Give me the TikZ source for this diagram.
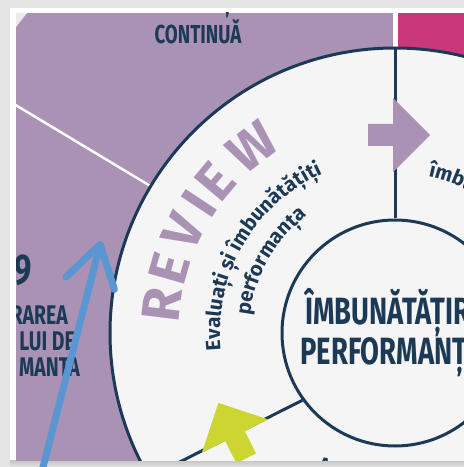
\documentclass[tikz,border=0pt]{standalone}
\usepackage{fontspec}
\setmainfont{Fira Sans}
\newfontfamily\condfont{Fira Sans}[FakeStretch=0.72]
\usetikzlibrary{arrows.meta,decorations.text}

\definecolor{navy}{HTML}{1C3A56}
\definecolor{lilac}{HTML}{AA92B5}
\definecolor{berry}{HTML}{C8387B}
\definecolor{lime}{HTML}{CDD533}
\definecolor{pen}{HTML}{5A96D2}
\definecolor{paper}{HTML}{F5F5F5}
\definecolor{edge}{HTML}{E4E4E4}

\newcommand\arcfont{\color{navy}\bfseries\fontsize{20.5}{20.5}\selectfont}
\newcommand\revfont{\fontsize{54}{54}\selectfont\bfseries}

\tikzset{
  ring/.style={draw=navy, line width=3pt},
  caps/.style={text=navy, inner sep=0pt, font=\condfont\bfseries},
  bigcaps/.style={caps, font=\condfont\bfseries\fontsize{38}{39}\selectfont},
  sidecaps/.style={caps, font=\condfont\bfseries\fontsize{27}{27}\selectfont},
  revletter/.style={text=lilac, inner sep=0pt, font=\revfont}
}

\begin{document}
\begin{tikzpicture}[x=1pt, y=1pt]
  \useasboundingbox (0,0) rectangle (464,467);
  % frame
  \fill[edge] (0,0) rectangle (464,467);
  \fill[white] (10,6) rectangle (464,459);
  \shade[top color=white!78!black, bottom color=edge] (10,0) rectangle (464,6);

  \begin{scope}
    \clip (16,6) rectangle (464,454);
    \fill[lilac] (16,6) rectangle (464,454);
    \fill[berry] (393,6) rectangle (464,454);
    \coordinate (c) at (395,134);
    \draw[white, line width=5pt] (c) ++(90:280) -- ++(0,200);
    \draw[white, line width=2.5pt] (c) ++(149:280) -- ++(149:200);
    \fill[white!92!black] (16,454) -- (27,454) -- (16,440) -- cycle;

    % wheel
    \filldraw[fill=paper, ring] (c) circle[radius=285];
    \node[circle, ring, minimum size=226pt, inner sep=0pt] (hub) at (c) {};
    \path (c) ++(90:285) coordinate (rimtop);
    \path (hub.216) ++(206.7:200) coordinate (rimlow);
    \draw[ring] (hub.north) -- (rimtop);
    \draw[ring] (hub.216) -- (rimlow);

    % turn markers
    \fill[lilac, shift={(393,332)}]
      (-25,-11) -- (0,-11) -- (0,-37) -- (37,0) -- (0,37) -- (0,11) -- (-25,11) -- cycle;
    \fill[lime, shift={(235,31)}, rotate=116.7]
      (-25,-11) -- (0,-11) -- (0,-37) -- (37,0) -- (0,37) -- (0,11) -- (-25,11) -- cycle;

    % left sector
    \foreach \a/\ch [count=\i] in {173/R,164/E,154.5/V,146.5/I,140/E,127.5/W}
      \node[revletter, rotate=\a-90] (rv\i) at ([shift={(\a:235)}]c) {\ch};
    \path[decorate, decoration={text along path, text align=center,
        text={|\arcfont|Evaluați și îmbunătățiți}}]
      (c) ++(230:175) arc[start angle=230, end angle=70, radius=175];
    \path[decorate, decoration={text along path, text align=center,
        text={|\arcfont|performanța}}]
      (c) ++(230:146) arc[start angle=230, end angle=70, radius=146];

    % right sector
    \path[decorate, decoration={text along path, text align=left,
        text={|\arcfont|îmbu}}]
      (c) ++(78:160) arc[start angle=78, end angle=0, radius=160];

    \node[bigcaps, align=center, anchor=base] (hubtext) at (395,102)
      {ÎMBUNĂTĂȚIRE\\PERFORMANȚEI};

    % outside labels
    \node[caps, align=center, anchor=base, font=\condfont\bfseries\fontsize{26}{26}\selectfont]
      (title) at (198,424) {ÎMBUNĂTĂȚIRE\\CONTINUĂ};
    \node[caps, anchor=base east, font=\condfont\bfseries\fontsize{43}{43}\selectfont]
      (stepnum) at (32,182) {9};
    \node[sidecaps, anchor=base east] (sideA) at (68,142) {RAREA};
    \node[sidecaps, anchor=base east] (sideB) at (75,116) {LUI DE};
    \node[sidecaps, anchor=base east] (sideC) at (80,90) {MANȚA};
    \node[text=navy, anchor=north, rotate=-8, font=\bfseries\fontsize{19}{19}\selectfont]
      (lowtext) at (336,11) {Acu};
  \end{scope}

  % pointer
  \coordinate (penstart) at (42,-4);
  \coordinate (pentip) at (101,226);
  \draw[pen, line width=7pt, line cap=round,
    -{Straight Barb[length=40pt, width=50pt, round]}] (penstart) -- (pentip);
\end{tikzpicture}
\end{document}
